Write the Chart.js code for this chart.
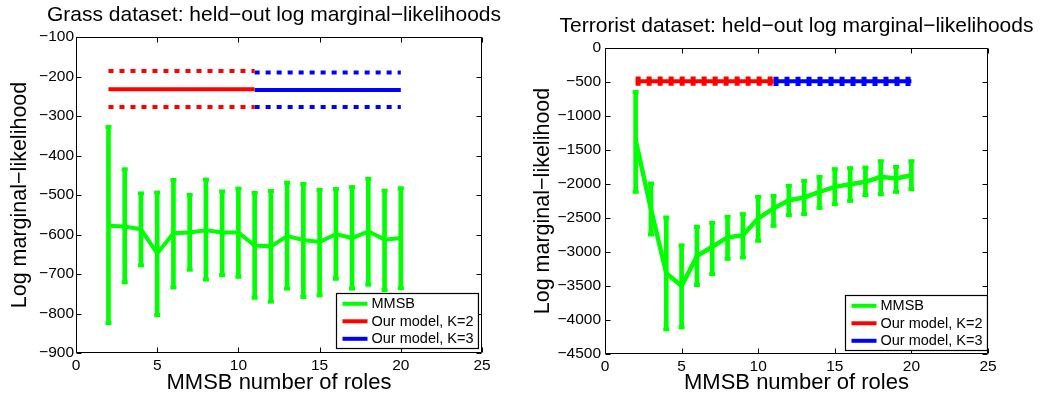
<!DOCTYPE html>
<html>
<head>
<meta charset="utf-8">
<script src="https://cdn.jsdelivr.net/npm/chart.js@4.4.1/dist/chart.umd.min.js"></script>
<style>
  html, body { margin: 0; padding: 0; background: #fff; }
  #wrap { position: relative; width: 1047px; height: 397px; overflow: hidden; }
  canvas { position: absolute; top: 0; }
  #grassCanvas { left: 0; }
  #terrCanvas { left: 520px; }
</style>
</head>
<body>
<div id="wrap">
  <canvas id="grassCanvas" width="520" height="397"></canvas>
  <canvas id="terrCanvas" width="527" height="397"></canvas>
</div>
<script>
// held-out log marginal-likelihoods, MMSB vs our model (K=2 / K=3)
const FONT  = "'Liberation Sans', Arial, Helvetica, sans-serif";
const GREEN = '#00ff00';
const RED   = '#ff0000';
const BLUE  = '#0000ff';

const mmsbRoles = [2, 3, 4, 5, 6, 7, 8, 9, 10, 11, 12, 13, 14, 15, 16, 17, 18, 19, 20];

// Grass dataset
const grassMean  = [-578, -580, -587, -648, -597, -595, -589, -595, -595, -628, -630, -604, -614, -619, -599, -609, -592, -613, -609];
const grassUpper = [-328, -435, -496, -494, -462, -500, -461, -491, -484, -495, -490, -469, -472, -487, -485, -480, -459, -489, -483];
const grassLower = [-824, -721, -678, -804, -734, -689, -714, -703, -707, -760, -770, -737, -758, -754, -712, -737, -727, -741, -736];

// Terrorist dataset
const terrMean  = [-1356, -2370, -3314, -3501, -3061, -2923, -2786, -2752, -2507, -2360, -2238, -2198, -2115, -2042, -2003, -1968, -1895, -1920, -1871];
const terrUpper = [-646, -1993, -2492, -2903, -2630, -2571, -2483, -2443, -2189, -2174, -2027, -1954, -1895, -1782, -1767, -1758, -1665, -1748, -1665];
const terrLower = [-2115, -2742, -4137, -4108, -3486, -3325, -3100, -3080, -2835, -2615, -2458, -2443, -2351, -2297, -2248, -2164, -2150, -2115, -2076];

// our model: [upper, mean, lower], drawn over a span of MMSB role counts
const spanK2 = [2, 11];
const spanK3 = [11, 20];
const grassK2 = [-186, -232, -277];
const grassK3 = [-190, -234, -277];
const terrK2  = [-450, -488, -526];
const terrK3  = [-452, -490, -528];

const minusFmt = v => (v < 0 ? '\u2212' + Math.abs(v) : String(v));

// MATLAB-ish box with inward ticks on all four sides
const axesBox = {
  id: 'axesBox',
  afterDraw(chart) {
    const { ctx, chartArea: a, scales: { x, y } } = chart;
    const len = 5;
    const L = Math.round(a.left) + 0.5, R = Math.round(a.right) - 0.5;
    const T = Math.round(a.top) + 0.5, B = Math.round(a.bottom) - 0.5;
    ctx.save();
    ctx.strokeStyle = '#000';
    ctx.lineWidth = 1;
    ctx.beginPath();
    x.ticks.forEach(t => {
      const px = Math.round(x.getPixelForValue(t.value)) + 0.5;
      ctx.moveTo(px, B); ctx.lineTo(px, B - len);
      ctx.moveTo(px, T); ctx.lineTo(px, T + len);
    });
    y.ticks.forEach(t => {
      const py = Math.round(y.getPixelForValue(t.value)) + 0.5;
      ctx.moveTo(L, py); ctx.lineTo(L + len, py);
      ctx.moveTo(R, py); ctx.lineTo(R - len, py);
    });
    ctx.rect(L, T, R - L, B - T);
    ctx.stroke();
    ctx.restore();
  }
};

// title centred over the axes, free to run wider than them
const axesTitle = {
  id: 'axesTitle',
  afterDraw(chart, args, opts) {
    const { ctx, chartArea: a } = chart;
    ctx.save();
    ctx.font = opts.size + 'px ' + FONT;
    ctx.fillStyle = '#000';
    ctx.textAlign = 'center';
    ctx.textBaseline = 'middle';
    ctx.fillText(opts.text, (a.left + a.right) / 2 + (opts.dx || 0), opts.y);
    ctx.restore();
  }
};

// boxed legend in the lower right corner of the axes
const boxLegend = {
  id: 'boxLegend',
  afterDraw(chart, args, opts) {
    const { ctx, chartArea: a } = chart;
    const items = chart.data.datasets
      .filter(d => d.legendLabel)
      .sort((p, q) => p.legendOrder - q.legendOrder);
    ctx.save();
    ctx.font = opts.fontSize + 'px ' + FONT;
    const textW = Math.max(...items.map(d => ctx.measureText(d.legendLabel).width));
    const w = 6 + 25 + 4 + textW + 5;
    const h = 55;
    const x0 = Math.round(a.right - opts.right - w) + 0.5;
    const y0 = Math.round(a.bottom - opts.bottom - h) + 0.5;
    ctx.fillStyle = '#fff';
    ctx.fillRect(x0, y0, w, h);
    ctx.strokeStyle = '#000';
    ctx.lineWidth = 1.2;
    ctx.strokeRect(x0, y0, w, h);
    items.forEach((d, i) => {
      const cy = y0 + 10.3 + i * 17.5;
      ctx.strokeStyle = d.borderColor;
      ctx.lineWidth = 4;
      ctx.beginPath();
      ctx.moveTo(x0 + 6, cy);
      ctx.lineTo(x0 + 31, cy);
      ctx.stroke();
      ctx.fillStyle = '#000';
      ctx.textBaseline = 'middle';
      ctx.fillText(d.legendLabel, x0 + 35, cy + 0.5);
    });
    ctx.restore();
  }
};

function hLine(span, yv, color, dashed, extra) {
  return Object.assign({
    type: 'line',
    data: span.map(x => ({ x, y: yv })),
    borderColor: color,
    borderWidth: 4,
    borderDash: dashed ? [5, 6] : [],
    pointRadius: 0,
    tension: 0,
  }, extra || {});
}

function buildChart(id, s) {
  const bars = mmsbRoles.map((x, i) => ({ x, y: [s.lower[i], s.upper[i]] }));
  const caps = mmsbRoles.flatMap((x, i) => [{ x, y: s.upper[i] }, { x, y: s.lower[i] }]);
  const line = mmsbRoles.map((x, i) => ({ x, y: s.mean[i] }));

  return new Chart(document.getElementById(id), {
    type: 'line',
    data: {
      datasets: [
        hLine(spanK2, s.k2[1], RED, false, { legendLabel: 'Our model, K=2', legendOrder: 1 }),
        hLine(spanK2, s.k2[0], RED, true),
        hLine(spanK2, s.k2[2], RED, true),
        hLine(spanK3, s.k3[1], BLUE, false, { legendLabel: 'Our model, K=3', legendOrder: 2 }),
        hLine(spanK3, s.k3[0], BLUE, true),
        hLine(spanK3, s.k3[2], BLUE, true),
        {
          type: 'line',
          legendLabel: 'MMSB',
          legendOrder: 0,
          data: line,
          borderColor: GREEN,
          borderWidth: s.lineW,
          pointRadius: 0,
          tension: 0,
        },
        {
          type: 'line',
          data: caps,
          showLine: false,
          pointStyle: 'line',
          pointRadius: 3,
          pointBorderWidth: 4,
          borderColor: GREEN,
          backgroundColor: GREEN,
        },
        {
          type: 'bar',
          data: bars,
          backgroundColor: GREEN,
          barThickness: 4,
          grouped: false,
        },
      ],
    },
    options: {
      responsive: false,
      animation: false,
      events: [],
      layout: { padding: { left: 0, right: s.padRight, top: s.areaTop, bottom: 0 } },
      plugins: {
        legend: { display: false },
        tooltip: { enabled: false },
        title: { display: false },
        axesTitle: { text: s.title, size: 21, y: s.titleY, dx: s.titleDx },
        boxLegend: { fontSize: 14.5, right: s.legendRight, bottom: s.legendBottom },
      },
      scales: {
        x: {
          type: 'linear',
          min: 0,
          max: 25,
          offset: false,
          grid: { display: false, drawTicks: false },
          border: { display: false },
          ticks: {
            stepSize: 5,
            color: '#000',
            padding: 3,
            maxRotation: 0,
            font: { family: FONT, size: 15.5 },
          },
          title: {
            display: true,
            text: 'MMSB number of roles',
            color: '#000',
            font: { family: FONT, size: 22, lineHeight: 1.2 },
            padding: { top: 0, bottom: 0.5 },
          },
          afterFit: sc => { sc.height = s.xHeight; },
        },
        y: {
          type: 'linear',
          min: s.yMin,
          max: s.yMax,
          grid: { display: false, drawTicks: false },
          border: { display: false },
          ticks: {
            stepSize: s.yStep,
            color: '#000',
            padding: s.yTickPad,
            callback: minusFmt,
            font: { family: FONT, size: 15.5 },
          },
          title: {
            display: true,
            text: 'Log marginal\u2212likelihood',
            color: '#000',
            font: { family: FONT, size: 21.5, lineHeight: 1.2 },
            padding: { top: s.yTitlePad, bottom: 0 },
          },
          afterFit: sc => { sc.width = s.yWidth; },
        },
      },
    },
    plugins: [axesBox, axesTitle, boxLegend],
  });
}

buildChart('grassCanvas', {
  title: 'Grass dataset: held\u2212out log marginal\u2212likelihoods',
  mean: grassMean, upper: grassUpper, lower: grassLower,
  k2: grassK2, k3: grassK3,
  yMin: -900, yMax: -100, yStep: 100,
  lineW: 4,
  areaTop: 37, titleY: 15, titleDx: -5,
  yWidth: 76, xHeight: 44, padRight: 38,
  yTickPad: 2, yTitlePad: 7.2,
  legendRight: 4, legendBottom: 5,
});

buildChart('terrCanvas', {
  title: 'Terrorist dataset: held\u2212out log marginal\u2212likelihoods',
  mean: terrMean, upper: terrUpper, lower: terrLower,
  k2: terrK2, k3: terrK3,
  yMin: -4500, yMax: 0, yStep: 500,
  lineW: 4.5,
  areaTop: 48, titleY: 26, titleDx: 0,
  yWidth: 85, xHeight: 43, padRight: 59,
  yTickPad: 4, yTitlePad: 9.7,
  legendRight: 1, legendBottom: 4,
});
</script>
</body>
</html>
